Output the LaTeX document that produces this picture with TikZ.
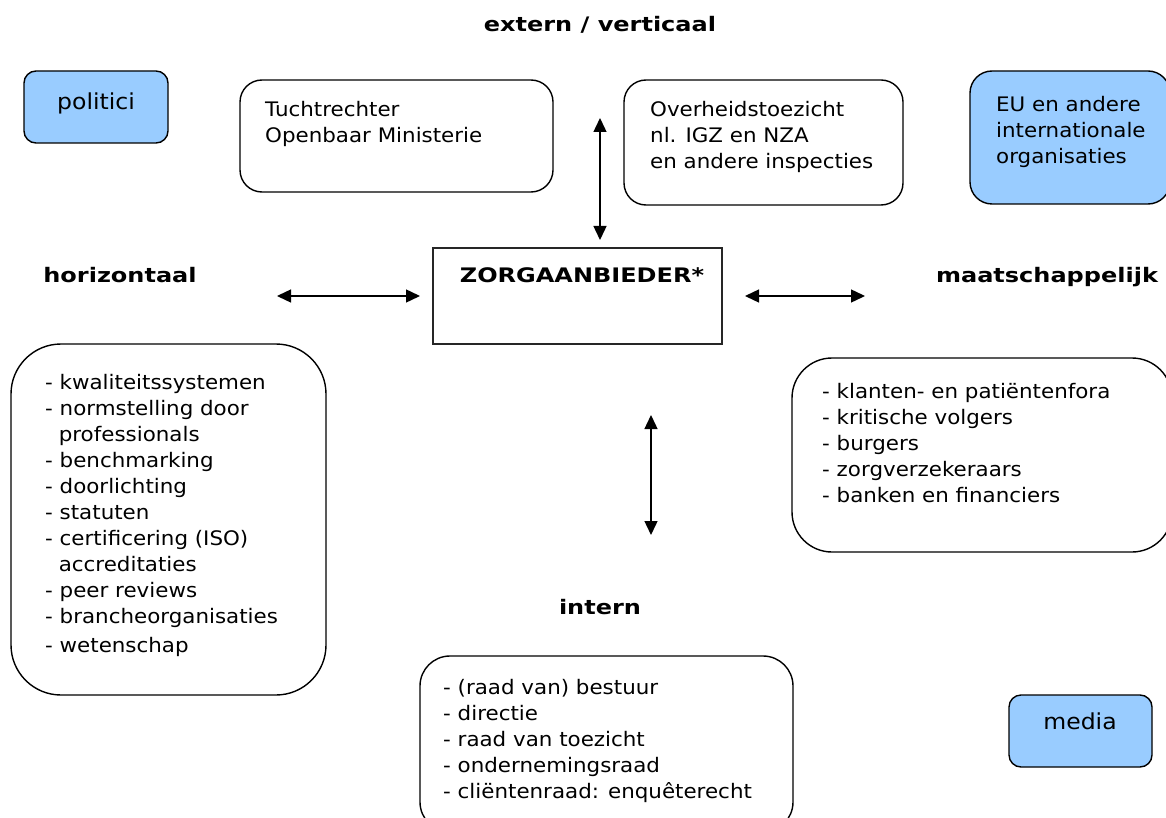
\documentclass[tikz,border=0pt]{standalone}
\usepackage{fontspec}
\setmainfont{DejaVu Sans}
\newfontfamily\bodyfont[FakeStretch=1.07]{DejaVu Sans}
\newfontfamily\hdrfont[FakeStretch=1.2]{DejaVu Sans}
\usetikzlibrary{arrows.meta}
\definecolor{lblue}{HTML}{99CCFF}
\tikzset{
  x=1pt, y=-1pt,
  box/.style={draw=black, line width=1.4pt, rounded corners=#1},
  box/.default=20pt,
  hdr/.style={font=\hdrfont\bfseries\fontsize{20}{24}\selectfont, inner sep=0pt, anchor=base},
  txt/.style={font=\bodyfont\fontsize{20}{26}\selectfont, inner sep=0pt, align=left, anchor=base west},
  big/.style={font=\bodyfont\fontsize{22}{26}\selectfont, inner sep=0pt, anchor=base},
  dbl/.style={{Triangle[length=14pt,width=13pt]}-{Triangle[length=14pt,width=13pt]}, line width=1.4pt},
}
\begin{document}
\begin{tikzpicture}
\useasboundingbox (0,0) rectangle (1166,818);
% title
\node[hdr] (ext) at (600,32) {extern / verticaal};
% politici
\draw[box=12pt, fill=lblue] (24,71) rectangle (168,143);
\node[big] (pol) at (96,110) {politici};
% Tuchtrechter (anchor base = baseline of last line)
\draw[box=22pt] (240,80) rectangle (553,192);
\node[txt] (tucht) at (265,143) {Tuchtrechter\\Openbaar Ministerie};
% Overheid
\draw[box=22pt] (624,80) rectangle (903,205);
\node[txt] (overh) at (650,169) {Overheidstoezicht\\nl. IGZ en NZA\\en andere inspecties};
% EU
\draw[box=22pt, fill=lblue] (970,71) rectangle (1170,204);
\node[txt] (eu) at (996,164) {EU en andere\\internationale\\organisaties};
% labels
\node[hdr] (hor) at (120,282) {horizontaal};
\node[hdr] (maat) at (1047,282) {maatschappelijk};
\node[hdr] (int) at (600,614) {intern};
% zorgaanbieder
\draw[line width=1.4pt, draw=black!85] (433,248) rectangle (722,344);
\node[hdr] (zorg) at (582,282) {ZORGAANBIEDER*};
\coordinate (zl) at (420,296);
\coordinate (zr) at (745,296);
\coordinate (zt) at (600,240);
\coordinate (zb) at (651,415);
\coordinate (hl) at (277,296);
\coordinate (mr) at (865,296);
\coordinate (et) at (600,118);
\coordinate (ib) at (651,535);
\draw[dbl] (hl) -- (zl);
\draw[dbl] (zr) -- (mr);
\draw[dbl] (et) -- (zt);
\draw[dbl] (zb) -- (ib);
% left list
\draw[box=50pt] (11,344) rectangle (326,695);
\node[txt] (hlist) at (45,652) {- kwaliteitssystemen\\- normstelling door\\\ \ professionals\\- benchmarking\\- doorlichting\\- statuten\\- certificering (ISO)\\\ \ accreditaties\\- peer reviews\\- brancheorganisaties\\[3pt]- wetenschap};
% right list
\draw[box=40pt] (792,358) rectangle (1172,552);
\node[txt] (mlist) at (822,502) {- klanten- en patiëntenfora\\- kritische volgers\\- burgers\\- zorgverzekeraars\\- banken en financiers};
% bottom list
\draw[box=30pt] (420,656) rectangle (793,832);
\node[txt] (ilist) at (443,798) {- (raad van) bestuur\\- directie\\- raad van toezicht\\- ondernemingsraad\\- cliëntenraad: enquêterecht};
% media
\draw[box=12pt, fill=lblue] (1009,695) rectangle (1152,767);
\node[big] (med) at (1080,729) {media};
\end{tikzpicture}
\end{document}
